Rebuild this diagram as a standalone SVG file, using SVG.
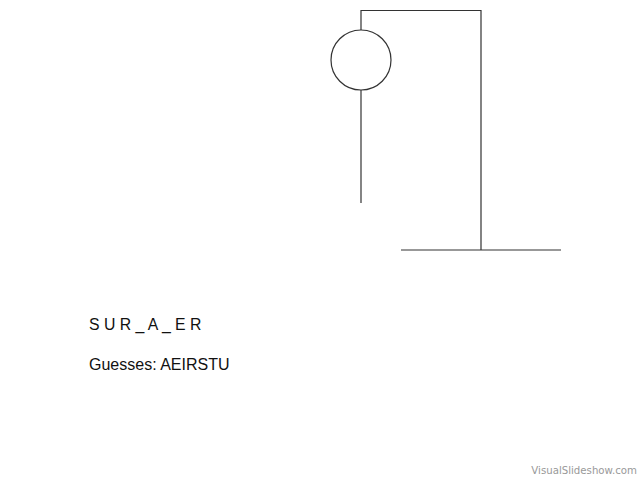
<svg xmlns="http://www.w3.org/2000/svg" width="640" height="480" viewBox="0 0 640 480">
<style>
.ln{stroke:#333;stroke-width:1.2;fill:none}
.t{font-family:"Liberation Sans",Arial,sans-serif;fill:#111}
</style>
<rect width="640" height="480" fill="#fff"/>
<g id="gallows">
<polyline class="ln" points="361,30 361,10.5 481,10.5 481,250"/>
<line class="ln" x1="401" y1="250" x2="561" y2="250"/>
</g>
<g id="head"><circle class="ln" cx="361" cy="60" r="30"/></g>
<g id="body"><line class="ln" x1="361" y1="90" x2="361" y2="203"/></g>
<g id="word"><text class="t" x="89" y="330" font-size="15.8">S U R _ A _ E R</text></g>
<g id="guesses"><text class="t" x="89" y="370" font-size="16">Guesses: AEIRSTU</text></g>
<text x="637" y="474" text-anchor="end" font-family="'DejaVu Sans',sans-serif" font-size="10.2" fill="#999">VisualSlideshow.com</text>
</svg>
